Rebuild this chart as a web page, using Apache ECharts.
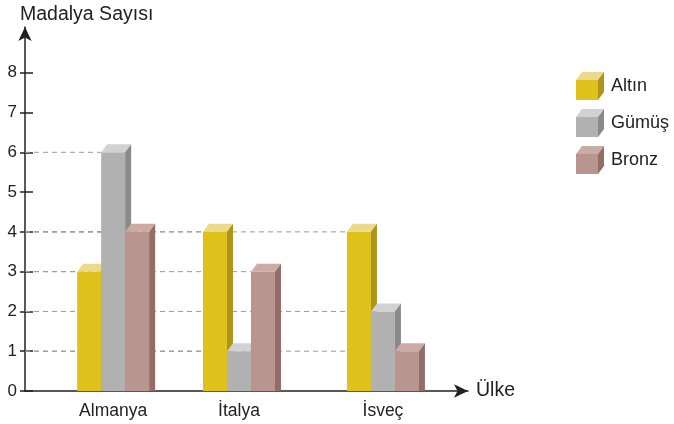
<!DOCTYPE html>
<html>
<head>
<meta charset="utf-8">
<script src="https://cdn.jsdelivr.net/npm/echarts@6/dist/echarts.min.js"></script>
<style>
  html, body { margin: 0; padding: 0; background: #fff; }
  #chart { width: 674px; height: 424px; }
</style>
</head>
<body>
<div id="chart"></div>
<script>
// ülkeler ve yatay konumları
const countries = ['Almanya', 'İtalya', 'İsveç']
const countryPos = [1.99, 4.83, 8.08]

const medalNames = ['Altın', 'Gümüş', 'Bronz']
const gold = [3, 4, 4]
const silver = [6, 1, 2]
const bronze = [4, 3, 1]

const yTicks = [0, 1, 2, 3, 4, 5, 6, 7, 8]

// ön yüz / üst yüz / yan yüz renkleri
const colors = [
  ['#dfc11b', '#ecd98c', '#ae9417'],
  ['#b1b1b1', '#d2d2d2', '#8a8a8a'],
  ['#b8958e', '#cbaba4', '#956c66']
]

const BAR_W = 24
const DX = 6
const DY = 8

const chart = echarts.init(document.getElementById('chart'))

function barLeft(api, x, k) {
  return api.coord([x, 0])[0] - BAR_W * 1.5 + k * BAR_W
}

/* 3B görünümlü sütun */
function renderBar(k) {
  return function (params, api) {
    const x = api.value(0)
    const v = api.value(1)
    const top = api.coord([x, v])[1]
    const base = api.coord([x, 0])[1]
    const l = barLeft(api, x, k)
    const r = l + BAR_W
    const c = colors[k]
    return {
      type: 'group',
      children: [
        { type: 'rect', shape: { x: l, y: top, width: BAR_W, height: base - top }, style: { fill: c[0] } },
        { type: 'polygon', shape: { points: [[l, top], [l + DX, top - DY], [r + DX, top - DY], [r, top]] }, style: { fill: c[1] } },
        { type: 'polygon', shape: { points: [[r, top], [r + DX, top - DY], [r + DX, base], [r, base]] }, style: { fill: c[2] } }
      ]
    }
  }
}

/* kesikli yardımcı çizgiler: eksenden sütuna kadar */
function renderGuide(params, api) {
  const x = api.value(0)
  const v = api.value(1)
  const k = api.value(2)
  const y = api.coord([x, v])[1]
  const x0 = api.coord([0, v])[0]
  return {
    type: 'line',
    shape: { x1: x0, y1: y, x2: barLeft(api, x, k), y2: y },
    style: { stroke: '#9a9a9a', lineWidth: 1, lineDash: [5, 4] }
  }
}

const medalData = [gold, silver, bronze]
const guideData = []
medalData.forEach((arr, k) => {
  arr.forEach((v, i) => guideData.push([countryPos[i], v, k]))
})

const font = 'Liberation Sans, Arial, sans-serif'

// lejant: küçük küpler
const legendGraphics = []
medalNames.forEach((name, k) => {
  const top = 80 + k * 37
  const l = 576, w = 22, h = 20
  const c = colors[k]
  legendGraphics.push(
    { type: 'rect', shape: { x: l, y: top, width: w, height: h }, style: { fill: c[0] } },
    { type: 'polygon', shape: { points: [[l, top], [l + DX, top - DY], [l + w + DX, top - DY], [l + w, top]] }, style: { fill: c[1] } },
    { type: 'polygon', shape: { points: [[l + w, top], [l + w + DX, top - DY], [l + w + DX, top + h - DY], [l + w, top + h]] }, style: { fill: c[2] } },
    { type: 'text', x: 611, y: top + 6, style: { text: name, font: '18px ' + font, fill: '#222', verticalAlign: 'middle' } }
  )
})

chart.setOption({
  animation: false,
  grid: { left: 25, right: 206, top: 27, bottom: 33, outerBoundsMode: 'none', containLabel: false },
  xAxis: {
    type: 'value',
    min: 0,
    max: 10,
    name: 'Ülke',
    nameGap: 8,
    nameTextStyle: { fontFamily: font, fontSize: 19.5, color: '#222' },
    axisLine: { show: true, symbol: ['none', 'arrow'], symbolSize: [10, 14], lineStyle: { color: '#222', width: 1.5 } },
    axisTick: { show: false },
    splitLine: { show: false },
    axisLabel: {
      customValues: countryPos,
      formatter: v => countries[countryPos.indexOf(v)] || '',
      margin: 11,
      fontFamily: font,
      fontSize: 17.5,
      color: '#222'
    }
  },
  yAxis: [
    {
      type: 'value',
      min: 0,
      max: 9.15,
      name: 'Madalya Sayısı',
      nameGap: 2,
      nameTextStyle: { fontFamily: font, fontSize: 19.5, color: '#222', align: 'left', padding: [0, 0, 0, -5] },
      axisLine: { show: true, symbol: ['none', 'arrow'], symbolSize: [10, 14], lineStyle: { color: '#222', width: 1.5 } },
      axisTick: { show: true, customValues: yTicks, length: 5, lineStyle: { color: '#222', width: 1.5 } },
      splitLine: { show: false },
      axisLabel: { customValues: yTicks, margin: 8, fontFamily: font, fontSize: 17, color: '#222' }
    },
    {
      type: 'value',
      min: 0,
      max: 9.15,
      position: 'left',
      axisLine: { show: false },
      axisTick: { show: true, inside: true, customValues: yTicks, length: 8, lineStyle: { color: '#222', width: 1.5 } },
      splitLine: { show: false },
      axisLabel: { show: false }
    }
  ],
  graphic: legendGraphics,
  series: [
    { type: 'custom', name: 'guides', z: 1, renderItem: renderGuide, data: guideData, silent: true },
    ...medalData.map((arr, k) => ({
      type: 'custom',
      name: medalNames[k],
      z: 2,
      renderItem: renderBar(k),
      data: arr.map((v, i) => [countryPos[i], v])
    }))
  ]
})
</script>
</body>
</html>
